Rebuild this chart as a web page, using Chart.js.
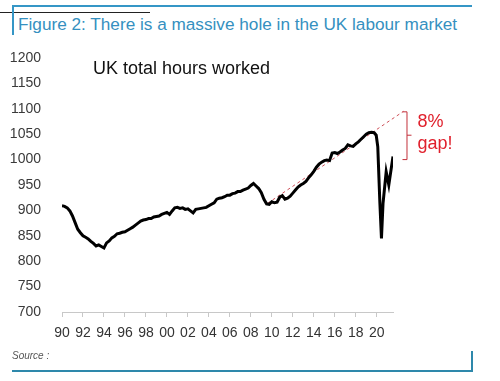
<!DOCTYPE html>
<html>
<head>
<meta charset="utf-8">
<script src="https://cdn.jsdelivr.net/npm/chart.js@4.4.1/dist/chart.umd.min.js"></script>
<style>
  html, body { margin: 0; padding: 0; background: #fff; }
  body { width: 500px; height: 381px; position: relative; overflow: hidden; font-family: "Liberation Sans", Arial, sans-serif; }
  #wrap { position: absolute; left: 0; top: 0; width: 500px; height: 381px; }
  .abs { position: absolute; }
  #title { left: 18px; top: 14px; font-size: 17.2px; color: #3590c0; white-space: nowrap; }
  #sub { left: 93px; top: 58px; font-size: 18px; color: #111; white-space: nowrap; }
  #source { left: 12px; top: 350px; font-size: 10px; font-style: italic; color: #555; }
</style>
</head>
<body>
<div class="abs" style="left:12px;top:5px;width:460px;height:2px;background:#3596c6"></div>
<div class="abs" style="left:0;top:12px;width:150px;height:1px;background:#222"></div>
<div class="abs" style="left:12px;top:5px;width:2px;height:30px;background:#3596c6"></div>
<div class="abs" id="title">Figure 2: There is a massive hole in the UK labour market</div>
<div id="wrap"><canvas id="c" width="500" height="381"></canvas></div>
<div class="abs" id="sub">UK total hours worked</div>
<div class="abs" id="source">Source :</div>
<div class="abs" style="left:12px;top:370px;width:461px;height:2px;background:#2e88ab"></div>
<div class="abs" style="left:471px;top:351px;width:2px;height:21px;background:#2e88ab"></div>
<script>
// Quarterly UK total hours worked (millions/week), 1990 Q1 .. 2019 Q4
const startYear = 1990;
const quarterlyHours = [
  909, 908, 905, 899,
  889, 876, 863, 856,
  850, 847, 844, 839,
  835, 830, 832, 829,
  826, 836, 840, 846,
  849, 854, 855, 857,
  858, 861, 864, 867,
  871, 875, 879, 881,
  882, 884, 884, 887,
  888, 889, 892, 894,
  896, 892, 899, 905,
  906, 904, 905, 902,
  903, 899, 895, 902,
  903, 904, 905, 906,
  909, 912, 915, 922,
  924, 925, 927, 930,
  930, 933, 934, 937,
  937, 940, 942, 944,
  949, 953, 948, 943,
  935, 922, 913, 912,
  917, 915, 916, 926,
  929, 922, 924, 928,
  934, 940, 946, 950,
  953, 957, 964, 970,
  977, 985, 991, 995,
  998, 999, 998, 1013,
  1014, 1012, 1015, 1019,
  1022, 1029, 1027, 1026,
  1031, 1035, 1040, 1045,
  1050, 1053, 1054, 1053
];
// Pandemic period (finer dates)
const covidYears = [2019.95, 2020.1, 2020.3, 2020.45, 2020.6, 2020.9, 2021.15, 2021.55];
const covidHours = [1048, 1025, 914, 845, 914, 976, 950, 1006];
// Pre-crisis trend line
const trendYears = [2009.6, 2022.55];
const trendHours = [914, 1095];
const gapLabel = ["8%", "gap!"];
const yTicks = { min: 700, max: 1200, step: 50 };
const xTicks = { min: 1990, max: 2021.55, step: 2 };

const mainData = quarterlyHours.map((v, i) => ({ x: startYear + i * 0.25, y: v }))
  .concat(covidYears.map((yr, i) => ({ x: yr, y: covidHours[i] })));
const trendData = trendYears.map((yr, i) => ({ x: yr, y: trendHours[i] }));

const FONT = '"Liberation Sans", Arial, sans-serif';

const gapPlugin = {
  id: 'gap',
  afterDatasetsDraw(chart) {
    const { ctx, scales: { x, y } } = chart;
    const bx = x.getPixelForValue(trendYears[1]) + 3;
    const top = y.getPixelForValue(trendHours[1]);
    const bot = y.getPixelForValue(covidHours[covidHours.length - 1] - 5);
    const mid = (top + bot) / 2;
    ctx.save();
    ctx.strokeStyle = '#c2303a';
    ctx.lineWidth = 1;
    ctx.beginPath();
    ctx.moveTo(bx - 4, top + 0.5); ctx.lineTo(bx + 0.5, top + 0.5);
    ctx.lineTo(bx + 0.5, bot + 0.5); ctx.lineTo(bx - 4, bot + 0.5);
    ctx.moveTo(bx + 0.5, mid); ctx.lineTo(bx + 5, mid);
    ctx.stroke();
    ctx.fillStyle = '#e0202c';
    ctx.font = '18px ' + FONT;
    ctx.textBaseline = 'alphabetic';
    ctx.textAlign = 'left';
    ctx.fillText(gapLabel[0], bx + 11, top + 16);
    ctx.fillText(gapLabel[1], bx + 11, top + 38);
    ctx.restore();
  }
};

new Chart(document.getElementById('c'), {
  type: 'line',
  data: {
    datasets: [
      {
        data: mainData,
        borderColor: '#000',
        borderWidth: 3,
        pointRadius: 0,
        tension: 0,
        order: 0
      },
      {
        data: trendData,
        borderColor: 'rgba(200,60,70,0.9)',
        borderWidth: 1,
        borderDash: [3, 3],
        pointRadius: 0,
        clip: false,
        order: 1
      }
    ]
  },
  options: {
    responsive: false,
    animation: false,
    events: [],
    layout: { padding: { left: 0, top: 58, right: 107, bottom: 44 } },
    plugins: { legend: { display: false }, tooltip: { enabled: false } },
    scales: {
      x: {
        type: 'linear',
        min: xTicks.min,
        max: xTicks.max,
        grid: { display: true, drawOnChartArea: false, drawTicks: true, tickLength: 5, color: '#c8c8c8' },
        border: { display: true, color: '#c8c8c8', width: 1 },
        ticks: {
          stepSize: xTicks.step,
          includeBounds: false,
          autoSkip: false,
          maxRotation: 0,
          padding: 8,
          color: '#333',
          font: { family: FONT, size: 14 },
          callback: (v) => String(v % 100).padStart(2, '0')
        },
        afterFit: (s) => { s.height = 25; }
      },
      y: {
        min: yTicks.min,
        max: yTicks.max,
        grid: { display: false },
        border: { display: false },
        ticks: {
          stepSize: yTicks.step,
          padding: 13,
          color: '#3a3a3a',
          font: { family: FONT, size: 14 },
          callback: (v) => String(v)
        },
        afterFit: (s) => { s.width = 62; }
      }
    }
  },
  plugins: [gapPlugin]
});
</script>
</body>
</html>
